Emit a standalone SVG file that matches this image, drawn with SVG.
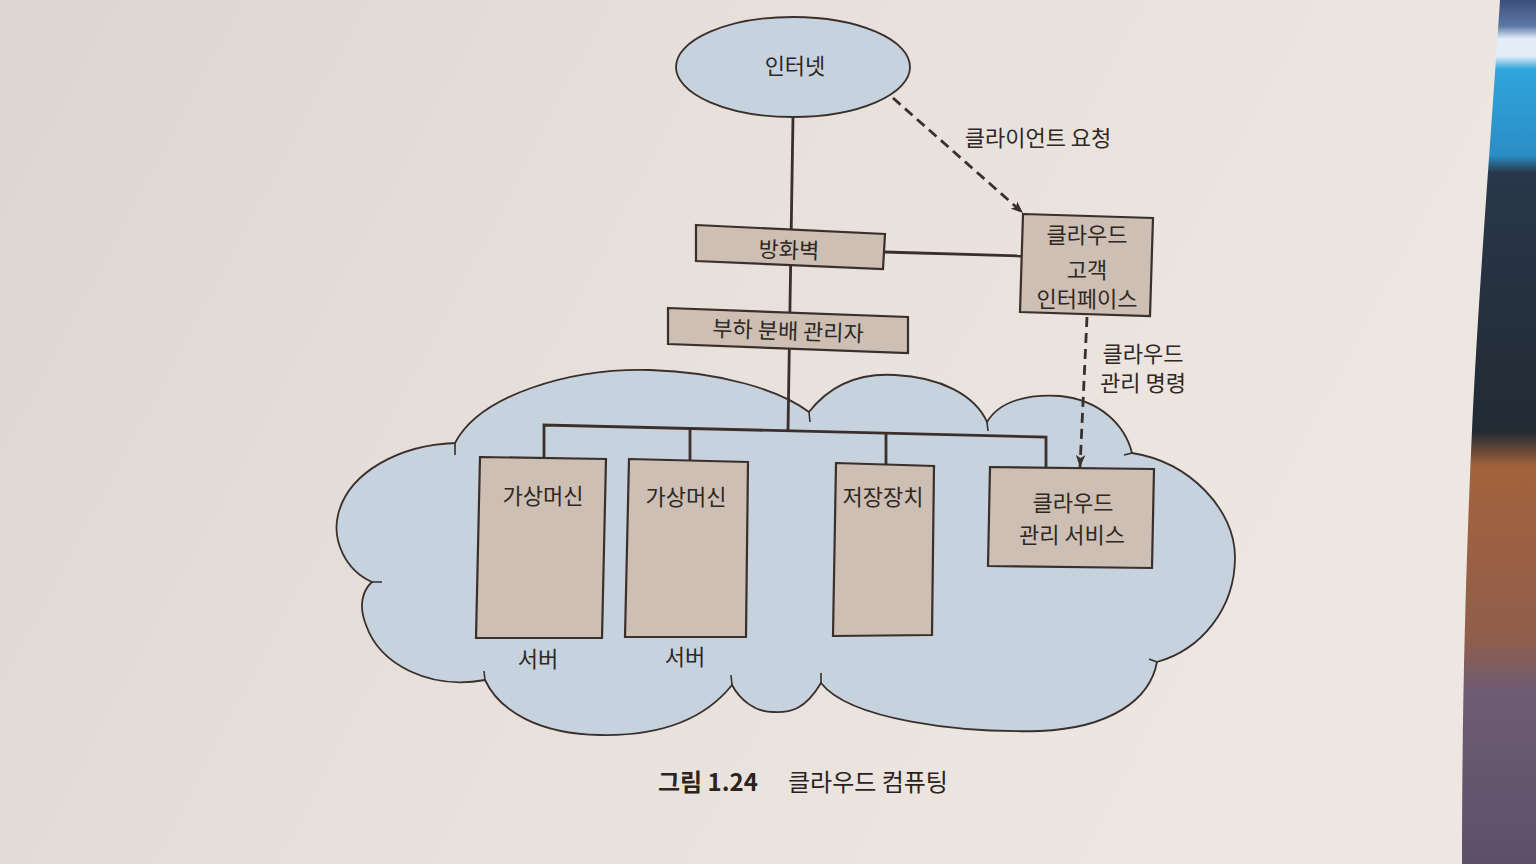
<svg xmlns="http://www.w3.org/2000/svg" width="1536" height="864" viewBox="0 0 1536 864">
<defs>
<linearGradient id="page" x1="0" y1="0" x2="1" y2="0.3">
<stop offset="0" stop-color="#ddd6d0"/>
<stop offset="0.5" stop-color="#e8e0da"/>
<stop offset="1" stop-color="#ede7e2"/>
</linearGradient>
<linearGradient id="bg" x1="0" y1="0" x2="0" y2="1">
<stop offset="0" stop-color="#3d4f7c"/>
<stop offset="0.03" stop-color="#5d78a6"/>
<stop offset="0.045" stop-color="#e4eef8"/>
<stop offset="0.065" stop-color="#e4eef8"/>
<stop offset="0.08" stop-color="#2fa6dc"/>
<stop offset="0.18" stop-color="#2a8dc4"/>
<stop offset="0.2" stop-color="#29374a"/>
<stop offset="0.5" stop-color="#222b34"/>
<stop offset="0.54" stop-color="#a4623c"/>
<stop offset="0.74" stop-color="#905e4c"/>
<stop offset="0.8" stop-color="#6e5c74"/>
<stop offset="1" stop-color="#5c5068"/>
</linearGradient>
<marker id="arrow" viewBox="0 0 10 8" refX="10" refY="4" markerWidth="12" markerHeight="10" markerUnits="userSpaceOnUse" orient="auto">
<path d="M0,0 L10,4 L0,8 L2.5,4 Z" fill="#3a2f2b"/>
</marker>
<style>
.box{fill:#cdbfb3;stroke:#3a2f2b;stroke-width:2.2}
.cloudfill{fill:#c6d3de;stroke:#3a2f2b;stroke-width:1.8}
.line{fill:none;stroke:#3a2f2b;stroke-width:2.8}
.dash{fill:none;stroke:#3a2f2b;stroke-width:2.8;stroke-dasharray:10 6}
.tick{fill:none;stroke:#3a2f2b;stroke-width:1.6}
.t{font-family:"Noto Sans CJK KR","Noto Sans",sans-serif;font-size:22px;fill:#2f2724;text-anchor:middle}
.cap{font-family:"Noto Sans CJK KR","Noto Sans",sans-serif;font-size:24px;fill:#2a2320}
</style>
</defs>

<rect x="0" y="0" width="1536" height="864" fill="url(#page)"/>
<path d="M1500,0 C1490,150 1478,300 1472,430 C1466,560 1462,700 1462,864 L1536,864 L1536,0 Z" fill="url(#bg)"/>

<g id="cloud">
<path class="cloudfill" d="M455,443 C480,395 570,368 650,370 C720,372 780,390 809,412 C830,385 860,373 895,375 C940,377 975,395 987,422 C1000,400 1030,394 1060,396 C1100,400 1125,425 1132,453 C1190,462 1235,510 1235,557 C1235,610 1200,650 1157,662 C1150,700 1110,728 1040,731 C960,733 850,720 821,683 C805,710 790,713 773,712 C755,712 740,700 732,685 C700,725 650,736 600,735 C540,734 500,712 485,680 C430,690 380,665 366,625 C358,605 363,590 372,582 C345,570 332,540 338,515 C348,472 400,445 455,443 Z"/>
<path class="tick" d="M455,443 L455,455 M372,582 L382,582 M485,680 L484,671 M732,685 L731,675 M821,683 L821,673 M809,412 L810,422 M987,422 L988,431 M1132,453 L1124,455 M1157,662 L1149,659"/>
</g>

<g id="connectors">
<line class="line" x1="793" y1="117" x2="788" y2="431"/>
<line class="line" x1="884" y1="252" x2="1021" y2="256"/>
<polyline class="line" points="544,458 544,425 1046,437 1046,467"/>
<line class="line" x1="690" y1="428.5" x2="690" y2="460"/>
<line class="line" x1="886" y1="433.2" x2="886" y2="464"/>
<line class="dash" x1="893" y1="98" x2="1023" y2="213" marker-end="url(#arrow)"/>
<line class="dash" x1="1087" y1="317" x2="1080" y2="467" marker-end="url(#arrow)"/>
<text class="t" x="1038" y="146">클라이언트 요청</text>
<text class="t" x="1143" y="362">클라우드</text>
<text class="t" x="1143" y="391">관리 명령</text>
</g>

<g id="internet">
<ellipse cx="793" cy="67" rx="117" ry="50" fill="#c6d3de" stroke="#3a2f2b" stroke-width="1.8"/>
<text class="t" x="795" y="74">인터넷</text>
</g>

<g id="firewall">
<polygon class="box" points="696,225 885,234 883,269 696,261"/>
<text class="t" x="789" y="258" transform="rotate(2 789 250)">방화벽</text>
</g>

<g id="loadbalancer">
<polygon class="box" points="668,308 908,317 908,353 668,344"/>
<text class="t" x="788" y="339" transform="rotate(2 788 332)">부하 분배 관리자</text>
</g>

<g id="client-interface">
<polygon class="box" points="1023,214 1153,218 1150,316 1020,312"/>
<text class="t" x="1087" y="243">클라우드</text>
<text class="t" x="1087" y="278">고객</text>
<text class="t" x="1087" y="307">인터페이스</text>
</g>

<g id="vm1">
<polygon class="box" points="480,457 606,459 602,638 476,638"/>
<text class="t" x="543" y="504">가상머신</text>
<text class="t" x="538" y="667">서버</text>
</g>

<g id="vm2">
<polygon class="box" points="629,459 748,462 746,637 625,637"/>
<text class="t" x="686" y="505">가상머신</text>
<text class="t" x="685" y="665">서버</text>
</g>

<g id="storage">
<polygon class="box" points="836,463 934,466 932,635 833,636"/>
<text class="t" x="883" y="505">저장장치</text>
</g>

<g id="mgmt-service">
<polygon class="box" points="990,467 1154,469 1152,568 988,566"/>
<text class="t" x="1073" y="511">클라우드</text>
<text class="t" x="1072" y="543">관리 서비스</text>
</g>

<g id="caption">
<text class="cap" x="658" y="791" font-weight="bold">그림 1.24</text>
<text class="cap" x="788" y="791">클라우드 컴퓨팅</text>
</g>
</svg>
